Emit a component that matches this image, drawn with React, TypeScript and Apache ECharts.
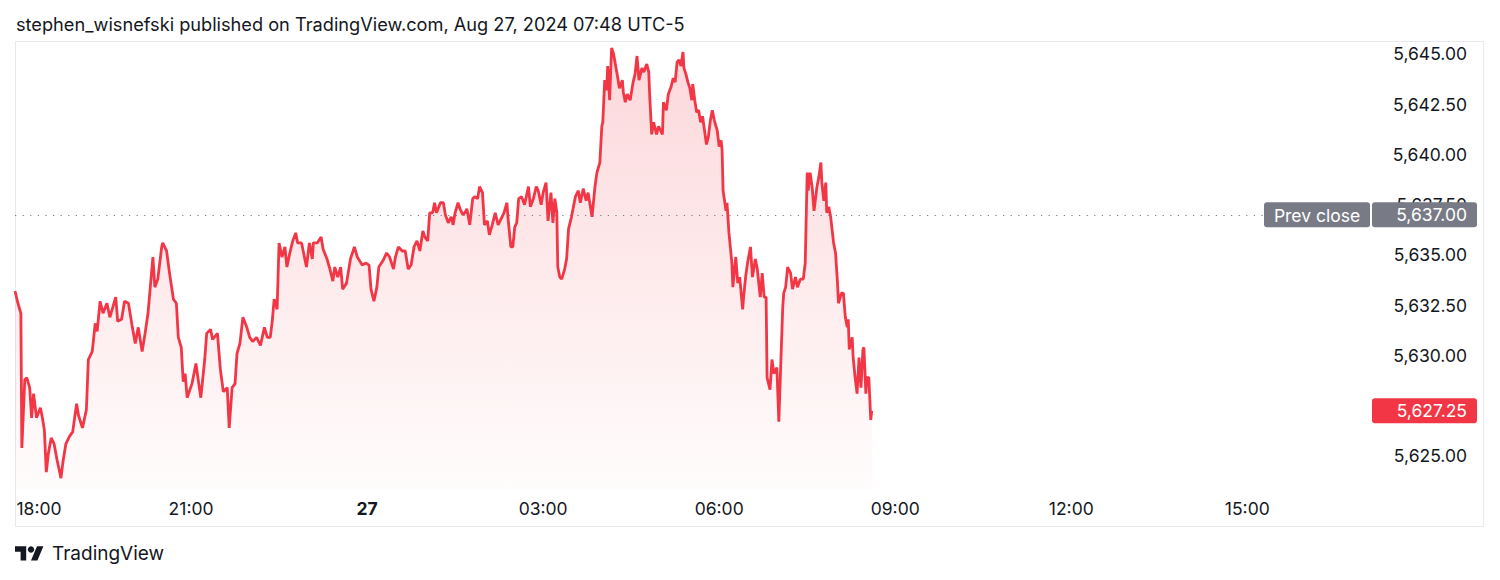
import React, { useEffect, useRef } from "react";
import * as echarts from "echarts";

// ---- data ----
const minutesSinceOpen = [
  0, 3, 6, 7, 10, 12, 15, 17, 19, 22,
  26, 28, 30, 32, 34, 37, 40, 43, 47, 49,
  52, 56, 59, 63, 65, 69, 73, 75, 79, 82,
  84, 87, 90, 94, 97, 103, 105, 109, 112, 116,
  120, 123, 126, 130, 133, 136, 141, 143, 146, 150,
  151, 155, 158, 162, 165, 167, 170, 172, 174, 176,
  181, 185, 187, 190, 194, 196, 200, 202, 207, 210,
  213, 217, 219, 222, 225, 227, 230, 233, 237, 240,
  243, 247, 251, 255, 258, 261, 263, 265, 268, 270,
  273, 276, 278, 281, 284, 287, 289, 293, 298, 301,
  304, 305, 309, 313, 315, 319, 322, 325, 327, 330,
  333, 335, 339, 343, 347, 350, 355, 359, 362, 364,
  367, 370, 372, 376, 380, 383, 387, 389, 392, 396,
  399, 402, 405, 408, 411, 414, 417, 419, 422, 424,
  427, 429, 431, 435, 438, 440, 443, 446, 448, 450,
  453, 455, 458, 460, 462, 465, 468, 470, 473, 475,
  478, 480, 483, 485, 488, 491, 494, 498, 500, 503,
  504, 507, 509, 511, 513, 515, 518, 521, 525, 527,
  530, 533, 535, 538, 540, 543, 545, 548, 550, 552,
  554, 555, 557, 559, 562, 564, 566, 569, 573, 576,
  578, 581, 584, 586, 590, 593, 595, 598, 600, 601,
  603, 605, 606, 608, 610, 612, 616, 618, 621, 622,
  624, 626, 629, 632, 634, 636, 638, 641, 643, 646,
  648, 649, 651, 653, 656, 658, 662, 663, 666, 668,
  671, 673, 675, 677, 679, 681, 683, 684, 686, 688,
  690, 692, 693, 695, 697, 699, 701, 703, 707, 709,
  711, 713, 715, 718, 720, 722, 723, 724, 727, 728,
  730, 733, 734, 737, 739, 741, 744, 745, 747, 749,
  752, 754, 757, 759, 762, 764, 766, 768, 769, 772,
  774, 776, 779, 781, 783, 785, 786, 788, 790, 793,
  795, 798, 800, 803, 806, 808, 810, 811, 813, 815,
  817, 820, 822, 824, 825, 827, 829, 830, 832, 834,
  837, 839, 841, 842, 845, 847, 849, 851, 852, 853,
  856, 857, 859, 861, 863, 865, 867, 868, 870, 871,
  873, 875, 876,
];

const prices = [
  5633.2, 5632.6, 5632.1, 5625.4, 5628.8, 5628.9, 5628.4, 5626.9, 5628.1, 5626.9,
  5627.4, 5626.9, 5626.3, 5624.2, 5625.1, 5625.9, 5625.6, 5624.8, 5623.9, 5624.7,
  5625.6, 5626.0, 5626.2, 5627.6, 5627.0, 5626.4, 5627.3, 5629.8, 5630.2, 5631.6,
  5631.2, 5632.7, 5632.1, 5632.6, 5631.9, 5632.9, 5631.7, 5631.8, 5632.7, 5632.6,
  5631.4, 5630.6, 5631.4, 5630.2, 5631.1, 5632.1, 5634.9, 5633.4, 5633.8, 5635.4,
  5635.6, 5635.2, 5634.1, 5632.8, 5632.6, 5630.9, 5630.4, 5628.7, 5629.1, 5627.9,
  5628.6, 5629.6, 5628.9, 5627.9, 5629.8, 5631.1, 5631.3, 5630.8, 5631.1, 5629.3,
  5628.2, 5628.4, 5626.4, 5628.4, 5628.6, 5630.1, 5630.6, 5631.9, 5631.4, 5630.9,
  5630.7, 5630.9, 5630.5, 5631.4, 5630.9, 5630.9, 5631.7, 5632.8, 5632.3, 5635.6,
  5634.9, 5635.4, 5634.4, 5635.1, 5635.7, 5636.1, 5635.6, 5635.6, 5634.4, 5635.6,
  5634.8, 5635.6, 5635.6, 5635.9, 5635.3, 5634.8, 5634.3, 5633.7, 5634.4, 5633.9,
  5634.4, 5633.3, 5633.6, 5634.8, 5635.4, 5634.9, 5634.5, 5634.6, 5634.5, 5633.3,
  5632.7, 5633.4, 5634.4, 5634.7, 5635.1, 5634.9, 5634.3, 5634.9, 5635.4, 5635.2,
  5635.2, 5634.3, 5634.5, 5635.4, 5635.7, 5635.2, 5636.2, 5635.9, 5635.7, 5637.1,
  5637.1, 5637.6, 5637.1, 5637.6, 5637.6, 5637.0, 5636.6, 5636.9, 5636.5, 5637.1,
  5637.6, 5637.3, 5637.0, 5637.1, 5637.3, 5636.5, 5637.8, 5637.9, 5637.8, 5638.4,
  5638.1, 5636.5, 5636.7, 5636.0, 5636.5, 5637.1, 5636.5, 5636.9, 5637.1, 5637.6,
  5636.9, 5635.4, 5635.4, 5636.4, 5636.6, 5637.8, 5637.9, 5637.5, 5638.4, 5637.4,
  5637.8, 5638.4, 5638.2, 5637.5, 5638.1, 5638.6, 5636.7, 5638.1, 5636.6, 5637.8,
  5637.1, 5634.4, 5633.9, 5633.8, 5634.3, 5634.8, 5636.3, 5636.9, 5637.9, 5638.2,
  5637.6, 5638.3, 5637.7, 5638.1, 5636.9, 5638.4, 5639.1, 5639.6, 5641.4, 5641.6,
  5643.7, 5643.2, 5644.4, 5642.7, 5645.3, 5645.0, 5643.9, 5643.3, 5643.7, 5643.1,
  5642.6, 5643.0, 5642.7, 5643.6, 5644.0, 5644.9, 5643.7, 5644.3, 5644.1, 5644.5,
  5644.1, 5642.9, 5641.0, 5641.6, 5641.0, 5641.4, 5641.0, 5642.6, 5642.2, 5643.0,
  5643.4, 5643.8, 5643.6, 5644.6, 5644.7, 5644.4, 5645.1, 5644.3, 5644.0, 5643.6,
  5643.3, 5642.7, 5643.5, 5642.7, 5642.1, 5642.2, 5641.6, 5641.9, 5640.5, 5640.9,
  5641.7, 5642.2, 5641.7, 5641.2, 5640.4, 5640.7, 5640.2, 5638.2, 5637.2, 5637.6,
  5636.1, 5634.6, 5633.4, 5634.9, 5633.6, 5633.9, 5632.3, 5632.9, 5633.9, 5634.6,
  5635.4, 5633.9, 5634.8, 5634.3, 5632.9, 5634.1, 5632.9, 5632.9, 5628.9, 5628.3,
  5629.8, 5629.1, 5629.4, 5626.7, 5629.6, 5632.4, 5633.1, 5633.4, 5634.4, 5634.1,
  5633.3, 5633.9, 5633.4, 5633.8, 5633.8, 5634.6, 5639.1, 5638.2, 5639.1, 5638.4,
  5637.2, 5638.4, 5638.9, 5639.6, 5638.6, 5637.7, 5638.6, 5637.1, 5637.4, 5636.9,
  5635.6, 5635.1, 5633.6, 5632.6, 5633.1, 5633.1, 5631.9, 5631.4, 5631.8, 5630.3,
  5630.9, 5629.9, 5628.9, 5628.1, 5629.9, 5628.4, 5630.3, 5630.4, 5628.1, 5628.9,
  5628.9, 5626.8, 5627.25,
];

const prevClose = 5637.0;
const lastPrice = 5627.25;

const xTickMinutes = [0, 180, 360, 540, 720, 900, 1080, 1260];
const xTickLabels = ["18:00", "21:00", "27", "03:00", "06:00", "09:00", "12:00", "15:00"];
const boldTickLabels = ["27"];
// 5,627.50 sits under the last-price tag, so it is not drawn (as in the reference)
const yTickValues = [5625, 5630, 5632.5, 5635, 5637.5, 5640, 5642.5, 5645];

const titleText = "stephen_wisnefski published on TradingView.com, Aug 27, 2024 07:48 UTC-5";
const footerText = "TradingView";
const prevCloseLabel = "Prev close";

// ---- styling ----
const FONT = "Inter, 'Noto Sans', sans-serif";
const TEXT = "#131722";
const RED = "#f23645";
const GREY = "#787b86";
const AXIS_FS = 17.5;

const TV_LOGO_PATH = "M14 22H7V11H0V4h14v18zM28 22h-8l7.5-18h8L28 22z";
echarts.graphic.registerShape("tvlogo", echarts.graphic.extendPath(TV_LOGO_PATH, {}));

const fmt = (v: number) =>
  v.toLocaleString("en-US", { minimumFractionDigits: 2, maximumFractionDigits: 2 });

export default function App() {
  const ref = useRef<HTMLDivElement>(null);

  useEffect(() => {
    if (!ref.current) return;
    const chart = echarts.init(ref.current, undefined, { renderer: "svg" });

    const data = minutesSinceOpen.map((m, i) => [m, prices[i]]);
    const gridLeft = 15;
    const gridRightPx = 1372;

    chart.setOption({
      animation: false,
      backgroundColor: "#ffffff",
      grid: { left: gridLeft, right: 1500 - gridRightPx, top: 42, bottom: 90, containLabel: false },
      xAxis: {
        type: "value",
        min: 0,
        max: 1387.5,
        axisLine: { show: false },
        axisTick: { show: false },
        splitLine: { show: false },
        axisLabel: {
          customValues: xTickMinutes,
          margin: 9,
          fontFamily: FONT,
          fontSize: AXIS_FS,
          color: TEXT,
          formatter: (v: number) => {
            const i = xTickMinutes.indexOf(Math.round(v));
            if (i < 0) return "";
            const lab = xTickLabels[i];
            if (boldTickLabels.includes(lab)) return `{b|${lab}}`;
            if (i === 0) return `{first|${lab}}`;
            return lab;
          },
          rich: {
            b: { fontFamily: FONT, fontSize: AXIS_FS, fontWeight: "bold", color: TEXT },
            first: { fontFamily: FONT, fontSize: AXIS_FS, color: TEXT, padding: [0, 0, 0, 48] },
          },
        },
      },
      yAxis: {
        type: "value",
        position: "right",
        min: 5623.308,
        max: 5645.597,
        scale: true,
        axisLine: { show: false },
        axisTick: { show: false },
        splitLine: { show: false },
        axisLabel: {
          customValues: yTickValues,
          align: "right",
          margin: 95,
          fontFamily: FONT,
          fontSize: AXIS_FS,
          color: TEXT,
          formatter: (v: number) => fmt(v),
        },
      },
      series: [
        {
          type: "line",
          data,
          showSymbol: false,
          smooth: false,
          lineStyle: { color: RED, width: 2.8 },
          itemStyle: { color: RED },
          areaStyle: {
            color: new echarts.graphic.LinearGradient(0, 0, 0, 1, [
              { offset: 0, color: "rgba(242,54,69,0.28)" },
              { offset: 1, color: "rgba(242,54,69,0.02)" },
            ]),
          },
          markLine: {
            silent: true,
            symbol: ["none", "none"],
            label: { show: false },
            lineStyle: { color: GREY, width: 1.2, type: [1.2, 6.4] },
            data: [{ yAxis: prevClose }],
          },
          z: 3,
        },
      ],
    });

    const yPrev = chart.convertToPixel({ yAxisIndex: 0 }, prevClose) as number;
    const yLast = chart.convertToPixel({ yAxisIndex: 0 }, lastPrice) as number;
    const boxH = 25;

    chart.setOption({
      graphic: [
        {
          type: "rect",
          z: 1,
          silent: true,
          shape: { x: 15.5, y: 41.5, width: 1468, height: 485 },
          style: { fill: "none", stroke: "#e6e9f0", lineWidth: 1 },
        },
        {
          type: "text",
          z: 100,
          x: 16,
          y: 24,
          style: {
            text: titleText,
            fontFamily: FONT,
            fontSize: 18.2,
            fill: TEXT,
            verticalAlign: "middle",
            align: "left",
          },
        },
        // prev close label
        {
          type: "rect",
          z: 100,
          shape: { x: 1264, y: yPrev - boxH / 2, width: 106, height: boxH, r: 3 },
          style: { fill: GREY },
        },
        {
          type: "text",
          z: 101,
          x: 1317,
          y: yPrev + 1,
          style: {
            text: prevCloseLabel,
            fontFamily: FONT,
            fontSize: AXIS_FS,
            fill: "#ffffff",
            align: "center",
            verticalAlign: "middle",
          },
        },
        {
          type: "rect",
          z: 100,
          shape: { x: 1372, y: yPrev - boxH / 2, width: 105, height: boxH, r: 3 },
          style: { fill: GREY },
        },
        {
          type: "text",
          z: 101,
          x: 1467,
          y: yPrev,
          style: {
            text: fmt(prevClose),
            fontFamily: FONT,
            fontSize: AXIS_FS,
            fill: "#ffffff",
            align: "right",
            verticalAlign: "middle",
          },
        },
        // last price label
        {
          type: "rect",
          z: 100,
          shape: { x: 1372, y: yLast - boxH / 2, width: 105, height: boxH, r: 3 },
          style: { fill: RED },
        },
        {
          type: "text",
          z: 101,
          x: 1467,
          y: yLast,
          style: {
            text: fmt(lastPrice),
            fontFamily: FONT,
            fontSize: AXIS_FS,
            fill: "#ffffff",
            align: "right",
            verticalAlign: "middle",
          },
        },
        // footer logo + text
        {
          type: "tvlogo",
          z: 100,
          x: 15,
          y: 543,
          scaleX: 0.8,
          scaleY: 0.8,
          style: { fill: TEXT },
        },
        {
          type: "circle",
          z: 100,
          shape: { cx: 15 + 20 * 0.8, cy: 543 + 8 * 0.8, r: 4 * 0.8 },
          style: { fill: TEXT },
        },
        {
          type: "text",
          z: 100,
          x: 52,
          y: 553,
          style: {
            text: footerText,
            fontFamily: FONT,
            fontSize: 19,
            fill: TEXT,
            align: "left",
            verticalAlign: "middle",
          },
        },
      ],
    });

    return () => chart.dispose();
  }, []);

  return (
    <div
      ref={ref}
      style={{ position: "fixed", left: 0, top: 0, width: 1500, height: 580, background: "#fff" }}
    />
  );
}
